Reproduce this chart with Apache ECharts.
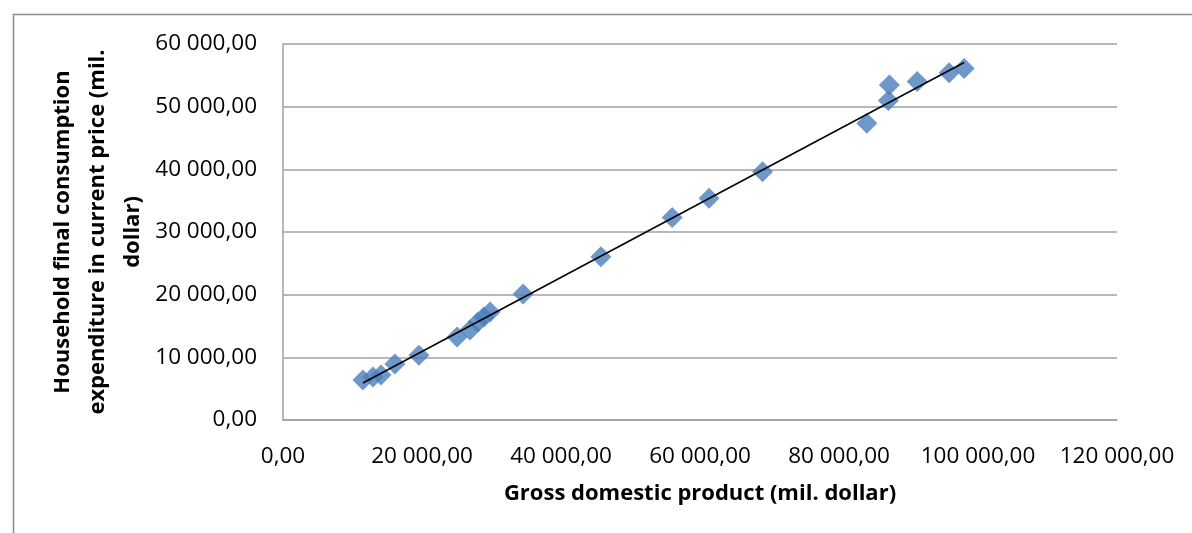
<!DOCTYPE html>
<html>
<head>
<meta charset="utf-8">
<script src="https://cdn.jsdelivr.net/npm/echarts@6/dist/echarts.min.js"></script>
<style>
html,body{margin:0;padding:0;background:#fff;}
#chart{width:1192px;height:533px;}
</style>
</head>
<body>
<div id="chart"></div>
<script>
// GDP (mil. dollar) and household final consumption expenditure (mil. dollar)
const gdp = [11500, 12950, 14100, 16100, 19550, 25050, 26900, 28050, 28900, 29800, 34550, 45750, 56000, 61300, 69000, 84000, 87100, 87250, 91250, 95850, 98000];
const consumption = [6400, 6850, 7200, 8950, 10350, 13250, 14350, 15650, 16450, 17250, 20100, 26050, 32300, 35400, 39600, 47350, 51000, 53450, 54000, 55400, 56100];
// linear trend line end points
const trendX = [11500, 98000];
const trendY = [5900, 57050];

const xTicks = [0, 20000, 40000, 60000, 80000, 100000, 120000];
const yTicks = [0, 10000, 20000, 30000, 40000, 50000, 60000];

const xTitle = 'Gross domestic product (mil. dollar)';
const yTitle = 'Household final consumption\nexpenditure in current price (mil.\ndollar)';

function fmt(v) {
  const s = Math.round(v).toString().replace(/\B(?=(\d{3})+(?!\d))/g, ' ');
  return s + ',00';
}

const FONT = '"Open Sans", sans-serif';
const points = gdp.map((x, i) => [x, consumption[i]]);
const trend = trendX.map((x, i) => [x, trendY[i]]);

const chart = echarts.init(document.getElementById('chart'), null, {renderer: 'canvas'});
chart.setOption({
  backgroundColor: '#ffffff',
  animation: false,
  grid: {left: 283, right: 75, top: 44, bottom: 113, containLabel: false},
  xAxis: {
    type: 'value',
    min: xTicks[0], max: xTicks[xTicks.length - 1], interval: xTicks[1] - xTicks[0],
    name: xTitle,
    nameLocation: 'middle',
    nameGap: 63,
    nameTextStyle: {fontFamily: FONT, fontSize: 22, fontWeight: 'bold', color: '#000'},
    axisLine: {show: true, lineStyle: {color: '#a0a0a0', width: 1.5}},
    axisTick: {show: false},
    splitLine: {show: false},
    axisLabel: {formatter: fmt, fontFamily: FONT, fontSize: 22.5, color: '#000', margin: 25}
  },
  yAxis: {
    type: 'value',
    min: yTicks[0], max: yTicks[yTicks.length - 1], interval: yTicks[1] - yTicks[0],
    axisLine: {show: true, lineStyle: {color: '#a0a0a0', width: 1.5}},
    axisTick: {show: false},
    splitLine: {show: true, lineStyle: {color: '#a0a0a0', width: 1.5}},
    axisLabel: {formatter: fmt, fontFamily: FONT, fontSize: 22.5, color: '#000', margin: 26}
  },
  graphic: [
    {
      type: 'rect', silent: true, z: -1,
      shape: {x: 13.5, y: 14.5, width: 1300, height: 700},
      style: {fill: null, stroke: '#8c8c8c', lineWidth: 1.5}
    },
    {
      type: 'text', silent: true,
      x: 98, y: 232, rotation: Math.PI / 2,
      style: {
        text: yTitle, fontFamily: FONT, fontSize: 22, fontWeight: 'bold', fill: '#000',
        align: 'center', verticalAlign: 'middle', lineHeight: 35
      }
    }
  ],
  series: [
    {
      type: 'scatter',
      data: points,
      symbol: 'diamond',
      symbolSize: 21,
      itemStyle: {color: '#4a7ebb'},
      z: 2
    },
    {
      type: 'line',
      data: trend,
      symbol: 'none',
      lineStyle: {color: '#000', width: 1.5},
      z: 3
    }
  ]
});
</script>
</body>
</html>
